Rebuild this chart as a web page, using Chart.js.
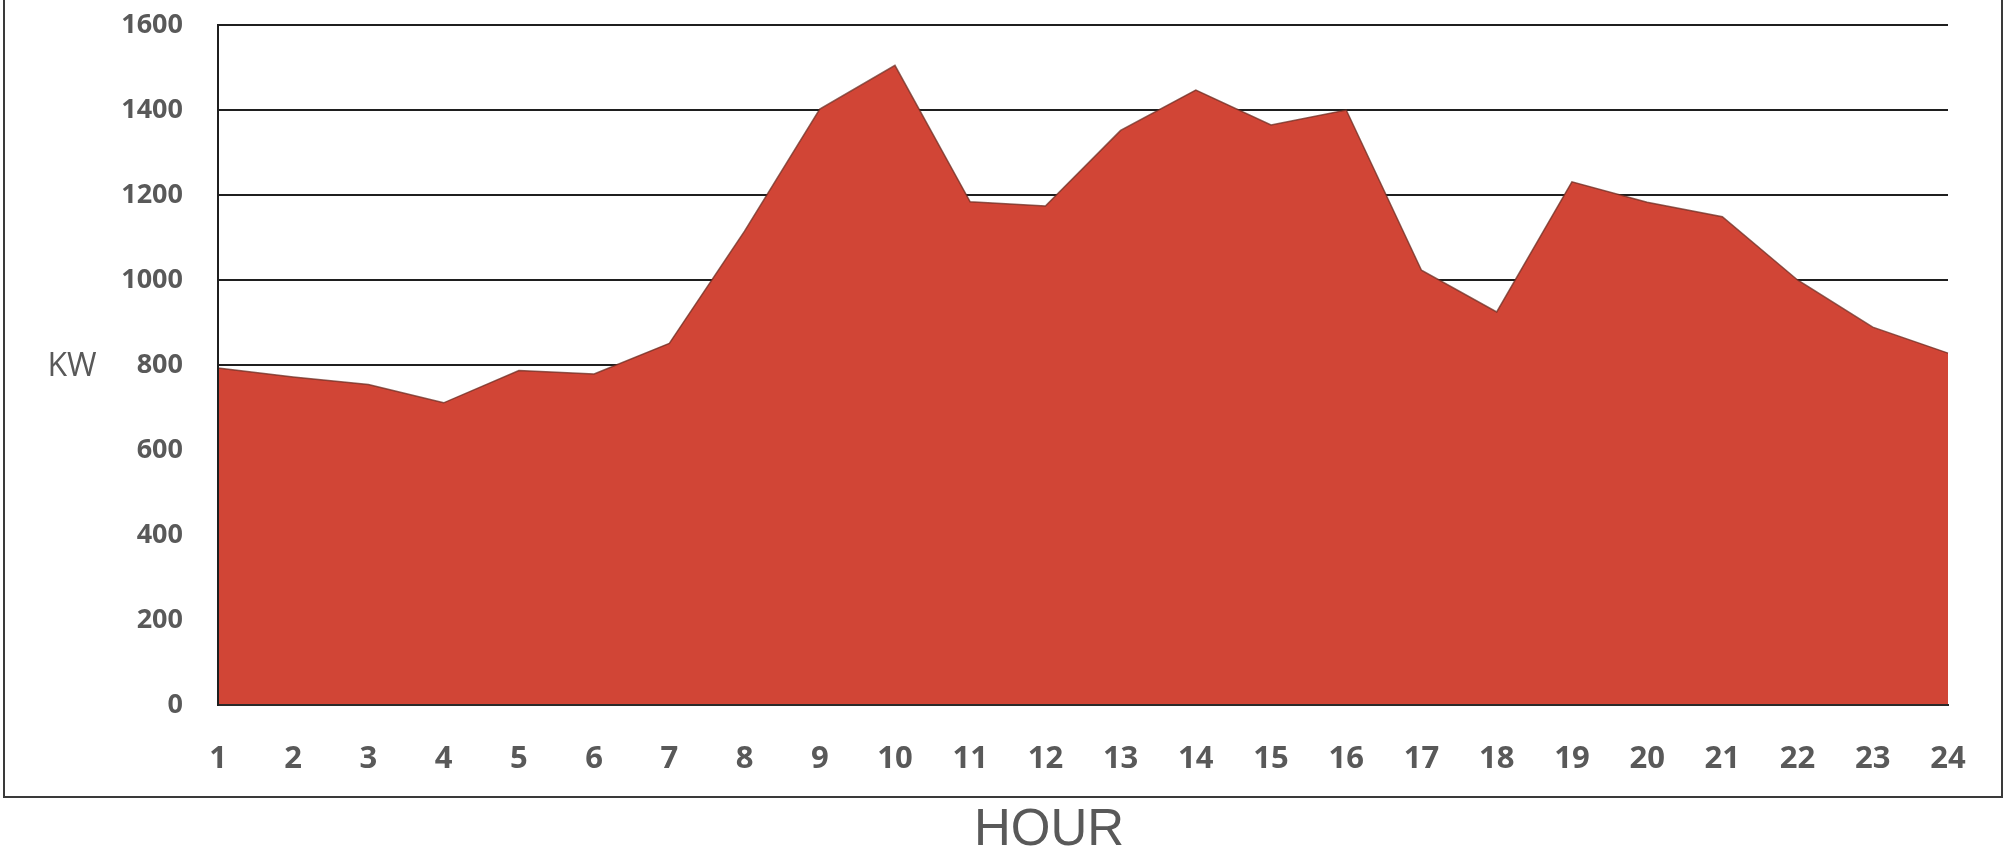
<!DOCTYPE html>
<html>
<head>
<meta charset="utf-8">
<script src="https://cdn.jsdelivr.net/npm/chart.js@4.4.1/dist/chart.umd.min.js"></script>
<style>
    html, body { margin: 0; padding: 0; background: #ffffff; }
    #wrap { width: 2007px; height: 855px; }
</style>
</head>
<body>
<div id="wrap"><canvas id="loadChart" width="2007" height="855"></canvas></div>
<script>
const hours = ['1', '2', '3', '4', '5', '6', '7', '8', '9', '10', '11', '12',
    '13', '14', '15', '16', '17', '18', '19', '20', '21', '22', '23', '24'];
const loadKw = [793, 772, 754, 711, 787, 779, 851, 1115, 1402, 1505, 1184, 1174,
    1352, 1447, 1365, 1400, 1023, 925, 1231, 1183, 1149, 1000, 889, 828];
const yMin = 0;
const yMax = 1600;
const yStep = 200;
const yTitle = 'KW';
const xTitle = 'HOUR';

const labelGrey = '#595959';

// outer frame and the two free-standing axis titles
const framePlugin = {
    id: 'frame',
    afterDraw: function(chart) {
        const ctx = chart.ctx;
        const area = chart.chartArea;
        ctx.save();
        ctx.strokeStyle = '#3a3a3a';
        ctx.lineWidth = 2;
        ctx.beginPath();
        ctx.moveTo(4, 0);
        ctx.lineTo(4, 797);
        ctx.lineTo(2002, 797);
        ctx.lineTo(2002, 0);
        ctx.stroke();

        ctx.fillStyle = labelGrey;
        ctx.textAlign = 'center';
        ctx.textBaseline = 'middle';
        ctx.font = '32px "Open Sans", sans-serif';
        ctx.fillText(yTitle, 72, (area.top + area.bottom) / 2 + 2);
        ctx.font = '51px "Liberation Sans", Arial, sans-serif';
        ctx.fillText(xTitle, 1049, 831);
        ctx.restore();
    }
};

new Chart(document.getElementById('loadChart'), {
    type: 'line',
    data: {
        labels: hours,
        datasets: [{
            data: loadKw,
            fill: 'origin',
            backgroundColor: '#d14536',
            borderColor: 'rgba(110, 45, 35, .75)',
            borderWidth: 1.5,
            pointRadius: 0,
            tension: 0
        }]
    },
    options: {
        responsive: false,
        animation: false,
        devicePixelRatio: 1,
        layout: {
            padding: { left: 0, right: 59, top: 25, bottom: 0 }
        },
        plugins: {
            legend: { display: false },
            tooltip: { enabled: false }
        },
        scales: {
            x: {
                afterFit: function(scale) { scale.height = 150; },
                grid: { display: false, drawTicks: false },
                border: { display: true, color: '#2a2a2a', width: 2, z: 1 },
                ticks: {
                    color: labelGrey,
                    padding: 36,
                    autoSkip: false,
                    maxRotation: 0,
                    font: { family: "'Open Sans', sans-serif", size: 31, weight: 'bold' }
                }
            },
            y: {
                min: yMin,
                max: yMax,
                afterFit: function(scale) {
                    scale.width = 218;
                    scale.paddingTop = 0;
                    scale.paddingBottom = 0;
                },
                grid: { color: '#1f1f1f', lineWidth: 2, drawTicks: false },
                border: { display: true, color: '#1f1f1f', width: 2, z: 1 },
                ticks: {
                    stepSize: yStep,
                    color: labelGrey,
                    padding: 35,
                    font: { family: "'Open Sans', sans-serif", size: 27, weight: 'bold' },
                    callback: function(value) { return String(value); }
                }
            }
        }
    },
    plugins: [framePlugin]
});
</script>
</body>
</html>
